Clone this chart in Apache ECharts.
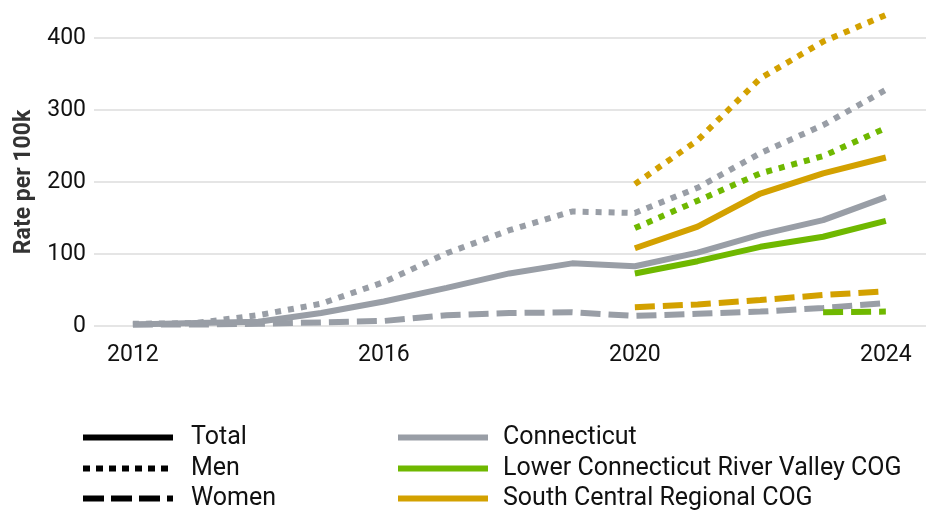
<!DOCTYPE html>
<html>
<head>
<meta charset="utf-8">
<script src="https://cdn.jsdelivr.net/npm/echarts@6/dist/echarts.min.js"></script>
<style>
  html, body { margin: 0; padding: 0; background: #fff; }
  #chart { width: 936px; height: 512px; }
</style>
</head>
<body>
<div id="chart"></div>
<script>
// 数据
var years = [2012, 2013, 2014, 2015, 2016, 2017, 2018, 2019, 2020, 2021, 2022, 2023, 2024];
var ctTotal = [2, 4, 6, 18, 34, 53, 73, 87, 83, 102, 127, 147, 179];
var ctMen = [3, 4, 15, 31, 61, 101, 133, 159, 157, 192, 240, 279, 328];
var ctWomen = [2, 2, 3, 5, 7, 15, 18, 19, 14, 17, 20, 25, 32];
var regYears = [2020, 2021, 2022, 2023, 2024];
var lcTotal = [73, 90, 110, 124, 146];
var lcMen = [136, 174, 212, 236, 275];
var lcWomenYears = [2023, 2024];
var lcWomen = [19, 20];
var scTotal = [108, 138, 184, 212, 234];
var scMen = [197, 258, 344, 395, 432];
var scWomen = [26, 30, 36, 43, 48];
var xLabels = [2012, 2016, 2020, 2024];
var styleNames = ['Total', 'Men', 'Women'];
var regionNames = ['Connecticut', 'Lower Connecticut River Valley COG', 'South Central Regional COG'];

var font = 'Roboto';
var gray = '#999ea6';
var green = '#6fb800';
var gold = '#d3a100';
var dotted = [6, 7];
var dashed = [20, 8];

function pairs (xs, ys) {
  let out = [];
  for (let i = 0; i < xs.length; i++) {
    out.push([xs[i], ys[i]]);
  }
  return out;
}

function line (name, xs, ys, color, type) {
  return {
    name: name,
    type: 'line',
    data: pairs(xs, ys),
    symbol: 'none',
    clip: false,
    silent: true,
    lineStyle: { color: color, width: 6, type: type, cap: 'butt' }
  };
}

// 图例用的空系列
function dummy (name, color, type) {
  return {
    name: name,
    type: 'line',
    data: [],
    symbol: 'none',
    itemStyle: { color: 'rgba(0,0,0,0)' },
    lineStyle: { color: color, width: 6, type: type }
  };
}

// 每一行一个图例，避免换列
function legendRow (name, left, top, pad) {
  return {
    data: [name],
    left: left,
    top: top,
    padding: 0,
    itemWidth: 90,
    itemHeight: 6,
    lineStyle: { width: 6 },
    textStyle: { fontFamily: font, fontSize: 25, color: '#111', lineHeight: 24, padding: [0, 0, 0, pad] }
  };
}

var rowTops = [425, 456, 486];
var legends = [];
for (let i = 0; i < 3; i++) {
  legends.push(legendRow(styleNames[i], 80, rowTops[i], 13));
  legends.push(legendRow(regionNames[i], 395, rowTops[i], 10));
}

var chart = echarts.init(document.getElementById('chart'));

var option = {
  animation: false,
  textStyle: { fontFamily: font },
  grid: { left: 94, right: 10, top: 38, bottom: 186 },
  legend: legends,
  xAxis: {
    type: 'value',
    min: 2011.38,
    max: 2024.64,
    axisLine: { show: false },
    axisTick: { show: false },
    splitLine: { show: false },
    axisLabel: {
      customValues: xLabels,
      formatter: function (v) { return String(v); },
      fontSize: 23,
      color: '#111',
      margin: 18
    }
  },
  yAxis: {
    type: 'value',
    min: 0,
    max: 400,
    interval: 100,
    name: 'Rate per 100k',
    nameLocation: 'middle',
    nameGap: 58,
    nameTextStyle: { fontFamily: font, fontSize: 23, fontWeight: 'bold', color: '#333' },
    axisLine: { show: false },
    axisTick: { show: false },
    splitLine: { lineStyle: { color: '#dddddd', width: 1.5 } },
    axisLabel: { fontSize: 23, color: '#111', margin: 8 }
  },
  series: [
    dummy('Total', '#000', 'solid'),
    dummy('Men', '#000', [7, 6]),
    dummy('Women', '#000', [21, 7]),
    dummy('Connecticut', gray, 'solid'),
    dummy('Lower Connecticut River Valley COG', green, 'solid'),
    dummy('South Central Regional COG', gold, 'solid'),
    line('ct-women', years, ctWomen, gray, dashed),
    line('ct-men', years, ctMen, gray, dotted),
    line('ct-total', years, ctTotal, gray, 'solid'),
    line('lc-women', lcWomenYears, lcWomen, green, dashed),
    line('lc-men', regYears, lcMen, green, dotted),
    line('lc-total', regYears, lcTotal, green, 'solid'),
    line('sc-women', regYears, scWomen, gold, dashed),
    line('sc-men', regYears, scMen, gold, dotted),
    line('sc-total', regYears, scTotal, gold, 'solid')
  ]
};
chart.setOption(option);
</script>
</body>
</html>
